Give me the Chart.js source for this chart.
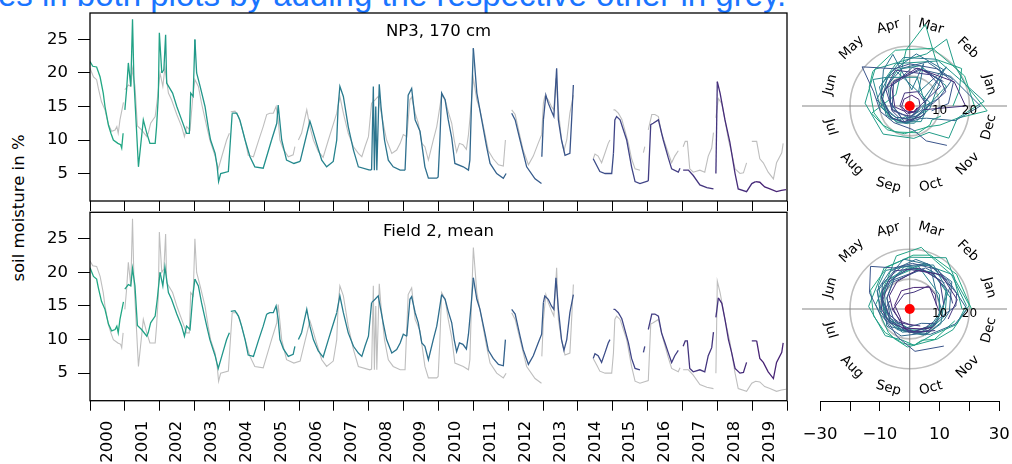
<!DOCTYPE html>
<html>
<head>
<meta charset="utf-8">
<script src="https://cdn.jsdelivr.net/npm/chart.js@4.4.0/dist/chart.umd.min.js"></script>
<style>
  html, body { margin: 0; padding: 0; background: #fff; width: 1012px; height: 464px; overflow: hidden; }
  canvas { position: absolute; }
  #note { position: absolute; left: -2px; top: -22px; font: 33px "Liberation Sans", Arial, sans-serif; line-height: 33px; color: #1a75ff; white-space: nowrap; }
  #ylab { position: absolute; left: 18px; top: 208px; transform: translate(-50%, -50%) rotate(-90deg); font: 16.5px "DejaVu Sans", sans-serif; white-space: nowrap; color: #000; }
</style>
</head>
<body>
<div id="note">es in both plots by adding the respective other in grey.</div>
<div id="ylab">soil moisture in %</div>
<canvas id="ts1" width="800" height="215" style="left:0;top:0"></canvas>
<canvas id="ts2" width="800" height="264" style="left:0;top:200px"></canvas>
<canvas id="pol1" width="215" height="192" style="left:797px;top:10px"></canvas>
<canvas id="pol2" width="215" height="252" style="left:797px;top:212px"></canvas>
<script>
/* ==========================================================================
   Data (decimal year, soil moisture in %; null = gap)
   ========================================================================== */

const yearLabels = ['2000', '2001', '2002', '2003', '2004', '2005', '2006', '2007', '2008', '2009',
    '2010', '2011', '2012', '2013', '2014', '2015', '2016', '2017', '2018', '2019'];

const moistureTicks = [5, 10, 15, 20, 25];
const monthNames = ['Jan', 'Feb', 'Mar', 'Apr', 'May', 'Jun', 'Jul', 'Aug', 'Sep', 'Oct', 'Nov', 'Dec'];
const ringValues = [10, 20];
const polarTicks = [-30, -20, -10, 0, 10, 20, 30];
const polarTickLabels = ['\u221230', '', '\u221210', '', '10', '', '30'];

// NP3, 170 cm
const npYear = [
    2000.00, 2000.08, 2000.19, 2000.29, 2000.38, 2000.43, 2000.53, 2000.60, 2000.67, 2000.80, 2000.88, 2000.91, 2000.95, 2000.97,
    2001.00, 2001.05, 2001.10, 2001.17, 2001.22, 2001.26, 2001.39, 2001.53, 2001.63, 2001.72, 2001.87, 2001.91, 2001.96, 2001.99,
    2002.06, 2002.12, 2002.17, 2002.20, 2002.37, 2002.49, 2002.63, 2002.77, 2002.85, 2002.89, 2002.96,
    2003.01, 2003.06, 2003.16, 2003.30, 2003.39, 2003.46, 2003.59, 2003.65, 2003.69, 2003.75, 2003.97,
    2004.08, 2004.21, 2004.30, 2004.45, 2004.59, 2004.73, 2004.97,
    2005.21, 2005.36, 2005.40, 2005.50, 2005.64, 2005.85,
    2006.03, 2006.31, 2006.36, 2006.50, 2006.65, 2006.79, 2006.98,
    2007.08, 2007.12, 2007.17, 2007.27, 2007.41, 2007.56, 2007.70,
    2008.03, 2008.08, 2008.13, 2008.16, 2008.20, 2008.23, 2008.30, 2008.35, 2008.45, 2008.56, 2008.70, 2008.90,
    2009.04, 2009.13, 2009.23, 2009.33, 2009.47, 2009.61, 2009.71, 2009.95, 2009.99,
    2010.04, 2010.09, 2010.19, 2010.28, 2010.38, 2010.47, 2010.71, 2010.86, 2010.90, 2010.95,
    2011.00, 2011.10, 2011.24, 2011.38, 2011.48, 2011.67, 2011.86, 2011.94,
    2012.00, 2012.10, 2012.20, 2012.34, 2012.53, 2012.77, 2012.955, 2012.96, 2012.965,
    2013.01, 2013.08, 2013.15, 2013.25, 2013.31, 2013.39, 2013.44, 2013.53, 2013.63, 2013.77, 2013.82, 2013.87,
    2014.00, 2014.44, 2014.54, 2014.63, 2014.78, 2014.97,
    2015.02, 2015.06, 2015.11, 2015.21, 2015.40, 2015.54, 2015.64, 2015.78,
    2016.02, 2016.09, 2016.16, 2016.31, 2016.45, 2016.59, 2016.69, 2016.88, 2016.93, 2016.97,
    2017.02, 2017.17, 2017.31, 2017.50, 2017.70, 2017.89, 2017.93, 2017.96,
    2018.00, 2018.08, 2018.22, 2018.36, 2018.51, 2018.60, 2018.84, 2018.99,
    2019.10, 2019.22, 2019.36, 2019.51, 2019.70, 2019.84, 2019.97
];
const npValue = [
    21.7, 21.0, 20.9, 19.4, 17.0, 15.0, 12.2, 11.0, 10.0, 9.5, 9.3, 8.8, 11.0, null,
    14.5, 17.5, 21.5, 18.0, 28.0, 19.0, 6.0, 13.0, 11.0, 9.5, 9.5, 12.0, 16.5, 26.0,
    20.0, 20.5, 25.7, 18.5, 17.0, 15.0, 13.0, 11.0, 11.0, 17.0, 16.5,
    25.0, 20.0, 18.0, 15.0, 12.0, 10.0, 8.0, 6.0, 3.8, 5.0, 5.3,
    14.0, 14.0, 13.0, 10.0, 7.5, 6.0, 5.8,
    10.0, 12.5, 15.2, 10.0, 7.0, 6.5,
    6.8, 12.8, 12.0, 9.5, 7.0, 6.0, 6.8,
    10.0, 15.0, 18.0, 16.5, 12.0, 8.5, 6.0,
    5.5, 5.6, 18.0, 5.5, 15.0, 5.5, 18.3, 15.0, 10.0, 7.0, 6.0, 5.5,
    5.5, 16.7, 17.7, 13.0, 11.3, 6.0, 4.3, 4.3, 4.5,
    10.0, 17.0, 16.0, 13.0, 10.3, 6.5, 6.0, 5.5, 7.0, 16.0,
    23.7, 17.0, 13.0, 9.0, 6.5, 5.0, 4.3, 5.0,
    null, 14.0, 13.0, 10.0, 6.0, 4.2, 3.5, null, 7.5,
    13.0, 16.7, 15.5, 14.2, 13.5, 20.7, 13.0, 10.0, 7.7, 8.0, 13.0, 18.2,
    null, 7.2, 6.2, 5.3, 5.0, 5.0,
    8.0, 13.0, 13.5, 13.0, 10.0, 6.0, 3.8, 3.5,
    3.9, 12.3, 12.5, 13.0, 10.0, 7.4, 5.7, 5.2, 5.8, null,
    5.5, 5.5, 4.7, 3.3, 2.9, 2.7, null, 5.0,
    18.7, 17.0, 13.0, 9.7, 5.0, 2.7, 2.3, 3.5,
    3.8, 3.7, 3.0, 2.7, 2.3, 2.5, 2.6
];

// Field 2, mean
const f2Year = [
    2000.00, 2000.10, 2000.19, 2000.24, 2000.33, 2000.43, 2000.53, 2000.62, 2000.72, 2000.77, 2000.81, 2000.86, 2000.96, 2000.98,
    2001.00, 2001.10, 2001.17, 2001.22, 2001.29, 2001.36, 2001.48, 2001.63, 2001.67, 2001.74, 2001.87, 2001.93,
    2002.01, 2002.09, 2002.15, 2002.25, 2002.34, 2002.49, 2002.63, 2002.71, 2002.77, 2002.87, 2002.95,
    2003.01, 2003.11, 2003.20, 2003.35, 2003.44, 2003.59, 2003.68, 2003.78, 2003.92,
    2004.00, 2004.02, 2004.04, 2004.16, 2004.26, 2004.35, 2004.45, 2004.54, 2004.69, 2004.83, 2004.97,
    2005.07, 2005.16, 2005.26, 2005.34, 2005.40, 2005.45, 2005.55, 2005.69, 2005.83, 2005.88, 2005.93, 2005.98,
    2006.07, 2006.22, 2006.31, 2006.41, 2006.55, 2006.69, 2006.84, 2006.93,
    2007.08, 2007.17, 2007.27, 2007.41, 2007.56, 2007.70, 2007.80, 2007.89, 2007.99,
    2008.08, 2008.18, 2008.27, 2008.42, 2008.51, 2008.66, 2008.80, 2008.90, 2008.99,
    2009.09, 2009.18, 2009.23, 2009.33, 2009.42, 2009.52, 2009.61, 2009.71, 2009.85, 2009.95, 2009.99,
    2010.09, 2010.19, 2010.28, 2010.38, 2010.45, 2010.52, 2010.60, 2010.70, 2010.80, 2010.86, 2010.95,
    2011.00, 2011.10, 2011.19, 2011.33, 2011.43, 2011.57, 2011.72, 2011.86, 2011.92,
    2012.00, 2012.10, 2012.20, 2012.34, 2012.43, 2012.58, 2012.72, 2012.86, 2012.96,
    2013.01, 2013.05, 2013.15, 2013.24, 2013.31, 2013.37, 2013.44, 2013.53, 2013.60, 2013.68, 2013.77, 2013.87,
    2014.00, 2014.44, 2014.49, 2014.58, 2014.68, 2014.78, 2014.87, 2014.92, 2014.97,
    2015.02, 2015.06, 2015.16, 2015.26, 2015.35, 2015.45, 2015.54, 2015.64, 2015.78, 2015.83, 2015.88, 2015.92, 2015.97,
    2016.02, 2016.12, 2016.21, 2016.31, 2016.40, 2016.50, 2016.59, 2016.69, 2016.78, 2016.88, 2016.95,
    2017.02, 2017.08, 2017.14, 2017.21, 2017.31, 2017.50, 2017.64, 2017.74, 2017.84, 2017.89, 2017.92, 2017.96,
    2018.03, 2018.13, 2018.22, 2018.32, 2018.41, 2018.51, 2018.65, 2018.75, 2018.84, 2018.92, 2018.99,
    2019.13, 2019.22, 2019.32, 2019.46, 2019.61, 2019.70, 2019.85, 2019.89
];
const f2Value = [
    20.7, 19.4, 19.0, 17.7, 15.7, 14.5, 12.3, 11.3, 11.5, 12.0, 11.0, 13.0, 15.6, null,
    17.5, 18.2, 18.0, 20.6, 18.0, 12.1, 11.5, 10.5, 11.0, 12.5, 13.5, 16.0,
    20.0, 18.0, 20.8, 17.0, 16.0, 13.8, 12.0, 10.5, 12.0, 11.5, 16.5,
    19.0, 18.0, 15.5, 12.0, 10.0, 7.6, 5.7, 7.5, 10.0,
    11.0, null, 14.2, 14.3, 13.5, 12.0, 10.0, 7.7, 7.5, 9.8, 12.0,
    13.8, 14.0, 14.0, 15.0, 13.0, 10.0, 8.6, 7.5, 7.8, 9.0, null, 10.0,
    11.0, 14.5, 12.0, 10.0, 8.3, 7.4, 10.0, 11.5,
    14.0, 16.5, 14.0, 11.0, 9.0, 8.0, 7.5, 9.0, 10.5,
    15.5, 16.0, 16.5, 12.3, 10.0, 8.0, 8.5, 9.5, 10.8,
    10.5, 16.0, 16.4, 14.0, 12.5, 9.5, 9.0, 7.0, 10.0, 12.0, 13.3,
    16.7, 16.0, 14.2, 12.5, 10.0, 8.2, 9.5, 9.3, 8.6, 10.8, 16.0,
    19.2, 16.0, 14.5, 11.0, 8.4, 7.2, 6.3, 6.1, 10.0,
    null, 14.5, 13.8, 10.5, 8.5, 6.3, 7.6, 9.5, 10.8,
    15.5, 16.5, 16.0, 15.0, 14.5, 19.2, 14.5, 10.0, 8.4, 10.0, 14.0, 16.7,
    null, 7.2, 7.9, 7.6, 6.6, 8.1, 9.5, 10.0, null,
    14.5, 14.5, 14.0, 13.1, 11.4, 9.5, 7.2, 5.7, 5.5, null, 8.1, 9.0, null,
    11.5, 13.8, 13.8, 13.5, 11.0, 9.5, 8.1, 6.6, 7.6, 8.4, null,
    9.0, 9.8, 9.8, 5.7, 5.2, 5.5, 5.2, 7.6, 8.8, 11.1, null, 13.3,
    16.2, 15.4, 13.0, 10.0, 8.1, 5.7, 5.0, 5.1, 6.6, null, 9.8,
    9.8, 7.2, 6.6, 5.2, 4.2, 6.6, 8.1, 9.5
];

/* ==========================================================================
   Styling helpers
   ========================================================================== */

const FONT = '"DejaVu Sans", sans-serif';
const GREY = '#bebebe';

// viridis stops, 2000 starts green and 2019 ends purple
const viridis = ['#440154', '#482475', '#414487', '#355f8d', '#2a788e', '#21918c', '#22a884', '#44bf70'];

function hexToRgb(h) {
    return [1, 3, 5].map(i => parseInt(h.slice(i, i + 2), 16));
}

function viridisAt(t) {
    const p = t * 10;
    const i = Math.min(Math.floor(p), viridis.length - 2);
    const f = p - i;
    const a = hexToRgb(viridis[i]), b = hexToRgb(viridis[i + 1]);
    const c = a.map((v, k) => Math.round(v + (b[k] - v) * f));
    return `rgb(${c[0]}, ${c[1]}, ${c[2]})`;
}

function yearColor(year) {
    const idx = Math.min(Math.max(Math.floor(year) - 2000, 0), yearLabels.length - 1);
    return viridisAt(0.6 - idx * 0.5 / (yearLabels.length - 1));
}

function toPoints(xs, ys) {
    return xs.map((x, i) => ({ x: x, y: ys[i] }));
}

// radius = moisture, angle = position in the year (counter-clockwise from east)
function toPolar(xs, ys) {
    return xs.map((t, i) => {
        const v = ys[i];
        if (v === null) return { x: 0, y: null };
        const a = 2 * Math.PI * (t - Math.floor(t));
        return { x: v * Math.cos(a), y: v * Math.sin(a) };
    });
}

/* ==========================================================================
   Plugins
   ========================================================================== */

const framePlugin = {
    id: 'frame',
    afterDraw(chart, args, opts) {
        const { ctx, chartArea: a } = chart;
        ctx.save();
        ctx.strokeStyle = '#000';
        ctx.lineWidth = 1.3;
        ctx.strokeRect(a.left, a.top, a.right - a.left, a.bottom - a.top);
        if (opts.title) {
            ctx.fillStyle = '#000';
            ctx.font = '16.5px ' + FONT;
            ctx.textAlign = 'center';
            ctx.textBaseline = 'middle';
            ctx.fillText(opts.title, (a.left + a.right) / 2, a.top + 19);
        }
        ctx.restore();
    }
};

const polarPlugin = {
    id: 'polarDecor',
    beforeDatasetsDraw(chart) {
        const { ctx, chartArea: a } = chart;
        const sx = chart.scales.x, sy = chart.scales.y;
        const cx = sx.getPixelForValue(0), cy = sy.getPixelForValue(0);
        const unit = (sx.getPixelForValue(10) - cx) / 10;
        ctx.save();

        // reference circles
        ctx.strokeStyle = GREY;
        ctx.lineWidth = 1.6;
        ringValues.forEach(r => {
            ctx.beginPath();
            ctx.arc(cx, cy, r * unit, 0, 2 * Math.PI);
            ctx.stroke();
        });

        // cross hair
        ctx.strokeStyle = '#858585';
        ctx.lineWidth = 1;
        ctx.beginPath();
        ctx.moveTo(a.left, cy); ctx.lineTo(a.right, cy);
        ctx.moveTo(cx, a.top); ctx.lineTo(cx, a.bottom);
        ctx.stroke();

        // month names around the circle
        ctx.fillStyle = '#000';
        ctx.font = '13.5px ' + FONT;
        ctx.textAlign = 'center';
        ctx.textBaseline = 'middle';
        const R = 27.5 * unit;
        monthNames.forEach((m, i) => {
            const deg = (i + 0.5) * 30;
            const rad = deg * Math.PI / 180;
            const rot = deg < 180 ? 90 - deg : 270 - deg;
            ctx.save();
            ctx.translate(cx + R * Math.cos(rad), cy - R * Math.sin(rad));
            ctx.rotate(rot * Math.PI / 180);
            ctx.fillText(m, 0, 0);
            ctx.restore();
        });
        ctx.restore();
    },
    afterDatasetsDraw(chart) {
        const { ctx } = chart;
        const sx = chart.scales.x, sy = chart.scales.y;
        const cy = sy.getPixelForValue(0);
        ctx.save();
        ctx.fillStyle = '#000';
        ctx.font = '12px ' + FONT;
        ctx.textAlign = 'center';
        ctx.textBaseline = 'middle';
        ringValues.forEach(r => ctx.fillText(String(r), sx.getPixelForValue(r), cy + 5));
        ctx.restore();
    },
    afterDraw(chart, args, opts) {
        if (!opts.axisLine) return;
        const { ctx, chartArea: a } = chart;
        const sx = chart.scales.x;
        ctx.save();
        ctx.strokeStyle = '#000';
        ctx.lineWidth = 1;
        ctx.beginPath();
        ctx.moveTo(sx.getPixelForValue(polarTicks[0]), a.bottom + 0.5);
        ctx.lineTo(sx.getPixelForValue(polarTicks[polarTicks.length - 1]), a.bottom + 0.5);
        ctx.stroke();
        ctx.restore();
    }
};

/* ==========================================================================
   Time series panels
   ========================================================================== */

function yearTickValues() {
    const out = [];
    yearLabels.forEach(l => { out.push(Number(l)); out.push(Number(l) + 0.5); });
    out.push(Number(yearLabels[yearLabels.length - 1]) + 1);
    return out;
}

function createSeriesChart(canvasId, title, mainYear, mainValue, greyYear, greyValue, showYears, padTop, axisHeight) {
    const ctx = document.getElementById(canvasId).getContext('2d');
    return new Chart(ctx, {
        type: 'line',
        data: {
            datasets: [{
                data: toPoints(mainYear, mainValue),
                borderWidth: 1.3,
                borderColor: yearColor(2000),
                segment: {
                    borderColor: c => yearColor(mainYear[c.p0DataIndex])
                },
                pointRadius: 0,
                spanGaps: false,
                tension: 0
            }, {
                data: toPoints(greyYear, greyValue),
                borderWidth: 1.1,
                borderColor: GREY,
                pointRadius: 0,
                spanGaps: false,
                tension: 0
            }]
        },
        options: {
            responsive: false,
            animation: false,
            layout: { padding: { top: padTop, right: 13, left: 0, bottom: 0 } },
            plugins: {
                legend: { display: false },
                tooltip: { enabled: false },
                frame: { title: title }
            },
            scales: {
                x: {
                    type: 'linear',
                    min: 2000,
                    max: 2020,
                    afterBuildTicks: s => { s.ticks = yearTickValues().map(v => ({ value: v })); },
                    afterFit: s => { s.height = axisHeight; s.paddingLeft = 0; s.paddingRight = 0; },
                    border: { display: false },
                    grid: {
                        drawOnChartArea: false,
                        drawTicks: true,
                        tickLength: 10,
                        lineWidth: 1,
                        color: c => (c.tick && Number.isInteger(c.tick.value)) ? '#000' : 'rgba(0,0,0,0)'
                    },
                    ticks: {
                        display: showYears,
                        autoSkip: false,
                        minRotation: 90,
                        maxRotation: 90,
                        padding: 10,
                        color: '#000',
                        font: { family: FONT, size: 16.5 },
                        callback: v => Number.isInteger(v) ? '' : String(Math.floor(v))
                    }
                },
                y: {
                    min: 0.9,
                    max: 28.95,
                    afterBuildTicks: s => { s.ticks = moistureTicks.map(v => ({ value: v })); },
                    afterFit: s => { s.width = 90; s.paddingTop = 0; s.paddingBottom = 0; },
                    border: { display: false },
                    grid: { drawOnChartArea: false, drawTicks: true, tickLength: 12, color: '#000', lineWidth: 1 },
                    ticks: {
                        padding: 10,
                        color: '#000',
                        font: { family: FONT, size: 16.5 }
                    }
                }
            }
        },
        plugins: [framePlugin]
    });
}

/* ==========================================================================
   Polar panels
   ========================================================================== */

function createPolarChart(canvasId, years, values, yRange, withAxis) {
    const ctx = document.getElementById(canvasId).getContext('2d');
    const xScale = {
        type: 'linear',
        display: withAxis,
        min: -36.1,
        max: 32.6
    };
    if (withAxis) {
        Object.assign(xScale, {
            afterBuildTicks: s => { s.ticks = polarTicks.map(v => ({ value: v })); },
            afterFit: s => { s.height = 63; s.paddingLeft = 0; s.paddingRight = 0; },
            border: { display: false },
            grid: { drawOnChartArea: false, drawTicks: true, tickLength: 10, color: '#000', lineWidth: 1 },
            ticks: {
                autoSkip: false,
                maxRotation: 0,
                padding: 14,
                color: '#000',
                font: { family: FONT, size: 16.5 },
                callback: v => polarTickLabels[polarTicks.indexOf(v)] || ''
            }
        });
    }
    return new Chart(ctx, {
        type: 'scatter',
        data: {
            datasets: [{
                data: [{ x: 0, y: 0 }],
                pointRadius: 5,
                pointBackgroundColor: '#ff0000',
                pointBorderWidth: 0,
                showLine: false
            }, {
                data: toPolar(years, values),
                showLine: true,
                borderWidth: 1,
                borderColor: yearColor(2000),
                segment: {
                    borderColor: c => yearColor(years[c.p0DataIndex])
                },
                pointRadius: 0,
                spanGaps: false,
                tension: 0
            }]
        },
        options: {
            responsive: false,
            animation: false,
            layout: { padding: 0 },
            plugins: {
                legend: { display: false },
                tooltip: { enabled: false },
                polarDecor: { axisLine: withAxis }
            },
            scales: {
                x: xScale,
                y: {
                    type: 'linear',
                    display: false,
                    min: -yRange,
                    max: yRange
                }
            }
        },
        plugins: [polarPlugin]
    });
}

createSeriesChart('ts1', 'NP3, 170 cm', npYear, npValue, f2Year, f2Value, false, 13, 14);
createSeriesChart('ts2', 'Field 2, mean', f2Year, f2Value, npYear, npValue, true, 12.3, 63.3);
createPolarChart('pol1', npYear, npValue, 30.67, false);
createPolarChart('pol2', f2Year, f2Value, 30.2, true);
</script>
</body>
</html>
